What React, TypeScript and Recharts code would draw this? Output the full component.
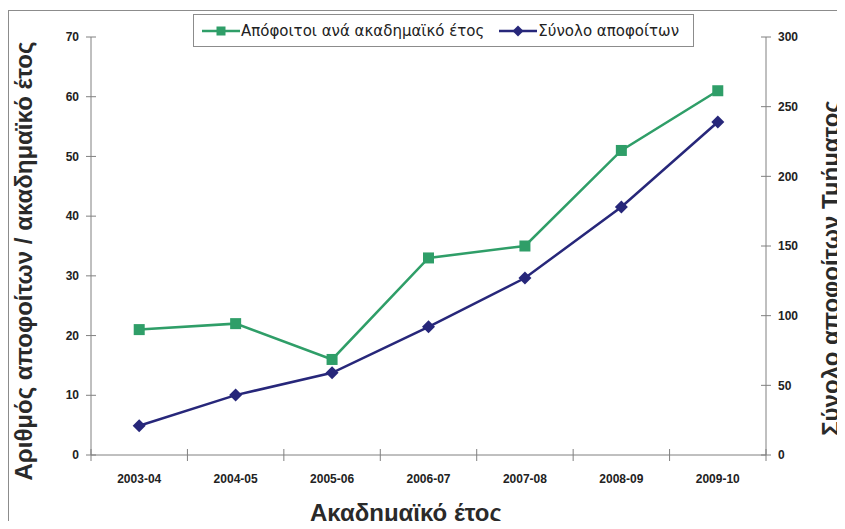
import { Label, Legend, Line, LineChart, XAxis, YAxis } from "recharts";

const years = ["2003-04", "2004-05", "2005-06", "2006-07", "2007-08", "2008-09", "2009-10"];
const perYear = [21, 22, 16, 33, 35, 51, 61];
const totals = [21, 43, 59, 92, 127, 178, 239];
const leftTicks = [0, 10, 20, 30, 40, 50, 60, 70];
const rightTicks = [0, 50, 100, 150, 200, 250, 300];

const GREEN = "#2f9e68";
const NAVY = "#27277a";
const AXIS = "#808080";

const W = 845;
const H = 529;
const LEFT = 91;
const RIGHT = 766;
const TOP = 37;
const BOTTOM = 455;
const BAND = (RIGHT - LEFT) / years.length;

const rows = years.map((year, i) => ({ year, perYear: perYear[i], total: totals[i] }));

const Square = (p: any) => (
  <rect key={`s${p.index}`} x={p.cx - 5.5} y={p.cy - 5.5} width={11} height={11} fill={GREEN} />
);
const Diamond = (p: any) => (
  <polygon
    key={`d${p.index}`}
    points={`${p.cx},${p.cy - 6.5} ${p.cx + 6.5},${p.cy} ${p.cx},${p.cy + 6.5} ${p.cx - 6.5},${p.cy}`}
    fill={NAVY}
  />
);

const LeftTick = ({ y, payload }: any) => (
  <g>
    <line x1={LEFT - 5} x2={LEFT + 5} y1={y} y2={y} stroke={AXIS} />
    <text x={LEFT - 12} y={y} dy="0.35em" textAnchor="end" fontSize={12} fontWeight="bold" fill="#222">
      {payload.value}
    </text>
  </g>
);

const RightTick = ({ y, payload }: any) => (
  <g>
    <line x1={RIGHT - 5} x2={RIGHT + 5} y1={y} y2={y} stroke={AXIS} />
    <text x={RIGHT + 12} y={y} dy="0.35em" textAnchor="start" fontSize={12} fontWeight="bold" fill="#222">
      {payload.value}
    </text>
  </g>
);

const YearTick = ({ x, index, payload }: any) => (
  <g>
    <line x1={x - BAND / 2} x2={x - BAND / 2} y1={BOTTOM - 6} y2={BOTTOM + 6} stroke={AXIS} />
    {index === years.length - 1 && (
      <line x1={x + BAND / 2} x2={x + BAND / 2} y1={BOTTOM - 6} y2={BOTTOM + 6} stroke={AXIS} />
    )}
    <text x={x} y={BOTTOM + 24} dy="0.35em" textAnchor="middle" fontSize={12} fontWeight="bold" fill="#222">
      {payload.value}
    </text>
  </g>
);

const LegendBox = ({ payload }: any) => (
  <div
    style={{
      display: "flex",
      alignItems: "center",
      height: 33,
      border: "1px solid #8c8c8c",
      background: "#fff",
      fontFamily: "'DejaVu Sans', Verdana, sans-serif",
      fontSize: 15,
      color: "#222",
      boxSizing: "border-box",
      paddingLeft: 8,
    }}
  >
    {(payload ?? []).map((entry: any, i: number) => (
      <span key={entry.value} style={{ display: "flex", alignItems: "center", marginRight: i === 0 ? 15 : 0 }}>
        <svg width={38} height={14} style={{ marginRight: 1 }}>
          <line x1={0} x2={38} y1={7} y2={7} stroke={entry.color} strokeWidth={2.5} />
          {entry.dataKey === "perYear" ? (
            <rect x={14.5} y={2.5} width={9} height={9} fill={entry.color} />
          ) : (
            <polygon points="19,1.5 24.5,7 19,12.5 13.5,7" fill={entry.color} />
          )}
        </svg>
        {entry.value}
      </span>
    ))}
  </div>
);

const titleProps = { textAnchor: "middle" as const, fontSize: 24, fontWeight: "bold", fill: "#2a2a2a" };

export default function App() {
  return (
    <div style={{ position: "relative", width: W, height: H, margin: -8, overflow: "hidden", background: "#fff" }}>
      <div
        style={{
          position: "absolute",
          left: 8,
          top: 10,
          width: 900,
          height: 600,
          border: "1px solid #8c8c8c",
        }}
      />
      <div style={{ position: "absolute", left: 0, top: 0 }}>
        <LineChart
          width={W}
          height={H}
          data={rows}
          margin={{ top: TOP, right: 0, bottom: 0, left: 0 }}
          style={{ fontFamily: "'Liberation Sans', Arial, sans-serif" }}
        >
          <XAxis
            dataKey="year"
            height={H - BOTTOM}
            stroke={AXIS}
            tickLine={false}
            tick={<YearTick />}
            interval={0}
            padding={{ left: BAND / 2, right: BAND / 2 }}
          >
            <Label
              content={() => (
                <text x={406} y={521} {...titleProps}>
                  Ακαδημαϊκό έτος
                </text>
              )}
            />
          </XAxis>
          <YAxis
            yAxisId="left"
            width={LEFT}
            domain={[0, 70]}
            ticks={leftTicks}
            stroke={AXIS}
            tickLine={false}
            tick={<LeftTick />}
          >
            <Label
              content={() => (
                <text x={32} y={261} transform="rotate(-90 32 261)" {...titleProps}>
                  Αριθμός αποφοίτων / ακαδημαϊκό έτος
                </text>
              )}
            />
          </YAxis>
          <YAxis
            yAxisId="right"
            orientation="right"
            width={W - RIGHT}
            domain={[0, 300]}
            ticks={rightTicks}
            stroke={AXIS}
            tickLine={false}
            tick={<RightTick />}
          >
            <Label
              content={() => (
                <text x={839} y={268} transform="rotate(-90 839 268)" {...titleProps}>
                  Σύνολο αποφοίτων Τμήματος
                </text>
              )}
            />
          </YAxis>
          <Legend
            verticalAlign="middle"
            align="center"
            content={<LegendBox />}
            wrapperStyle={{ position: "absolute", left: 193, top: 14, width: 501, height: 33 }}
          />
          <Line
            yAxisId="left"
            dataKey="perYear"
            name="Απόφοιτοι ανά ακαδημαϊκό έτος"
            stroke={GREEN}
            strokeWidth={2.5}
            dot={Square}
            activeDot={false}
            isAnimationActive={false}
          />
          <Line
            yAxisId="right"
            dataKey="total"
            name="Σύνολο αποφοίτων"
            stroke={NAVY}
            strokeWidth={2.5}
            dot={Diamond}
            activeDot={false}
            isAnimationActive={false}
          />
        </LineChart>
      </div>
    </div>
  );
}
